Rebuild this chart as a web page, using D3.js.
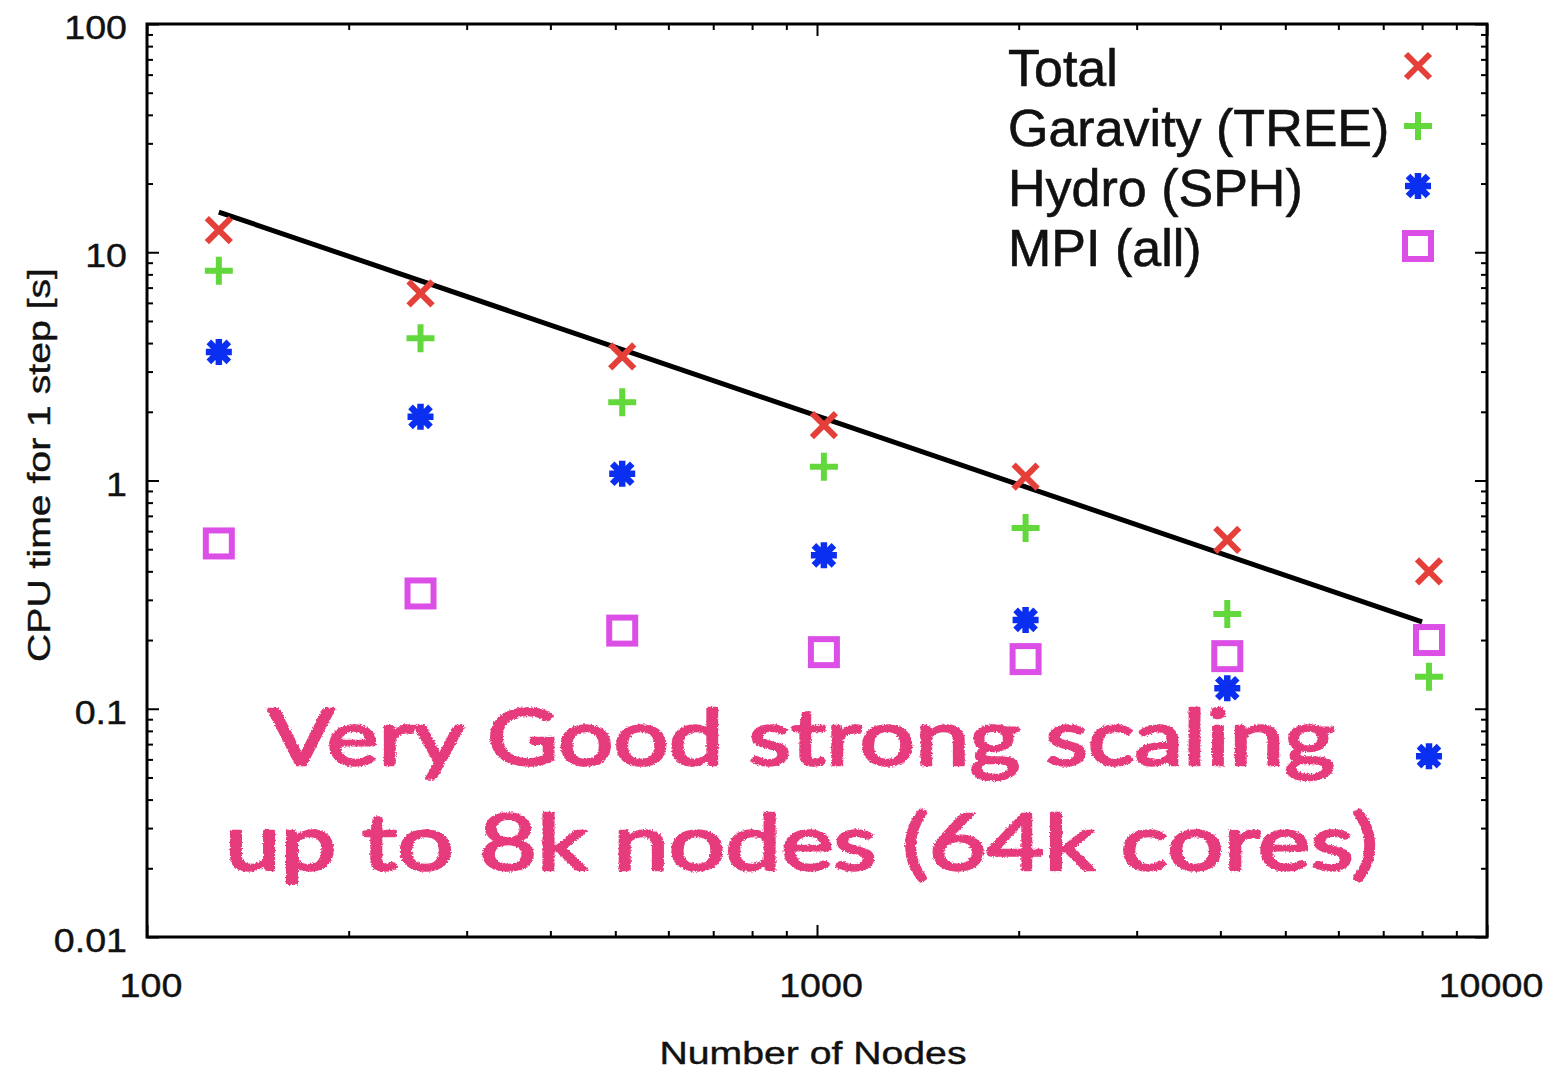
<!DOCTYPE html>
<html>
<head>
<meta charset="utf-8">
<script src="https://cdn.jsdelivr.net/npm/d3@7"></script>
<style>
  body { margin: 0; background: #fff; }
  svg { display: block; }
</style>
</head>
<body>
<svg id="chart" width="1551" height="1072"></svg>
<script>
// Strong-scaling timings: CPU time per step vs. number of nodes
const nodes      = [128, 256, 512, 1024, 2048, 4096, 8192];
const totalTime  = [12.5, 6.6, 3.5, 1.75, 1.04, 0.55, 0.40];
const treeTime   = [8.3, 4.2, 2.2, 1.15, 0.62, 0.26, 0.138];
const sphTime    = [3.66, 1.9, 1.07, 0.47, 0.245, 0.123, 0.062];
const mpiTime    = [0.53, 0.32, 0.22, 0.177, 0.165, 0.17, 0.20];

// Ideal scaling reference line (t ∝ 1/N)
const idealNodes = [128, 8000];
const idealTime  = [15, 0.24];

const xMajorTicks = [100, 1000, 10000];
const yMajorTicks = [0.01, 0.1, 1, 10, 100];
const xTickLabels = ["100", "1000", "10000"];
const yTickLabels = ["0.01", "0.1", "1", "10", "100"];

const seriesNames = ["Total", "Garavity (TREE)", "Hydro (SPH)", "MPI (all)"];
const noteLines   = ["Very Good strong scaling", "up to 8k nodes (64k cores)"];

const svg = d3.select("#chart");
const plot = { left: 147, right: 1487, top: 24, bottom: 937 };

const x = d3.scaleLog().domain([100, 10000]).range([plot.left, plot.right]);
const y = d3.scaleLog().domain([0.01, 100]).range([plot.bottom, plot.top]);

const colors = { total: "#e53f3a", tree: "#63d83d", sph: "#0b2ff0", mpi: "#dc4fe6" };

// Roughened pen stroke for the handwritten note
const defs = svg.append("defs");
const rough = defs.append("filter").attr("id", "rough")
  .attr("x", "-5%").attr("y", "-20%").attr("width", "110%").attr("height", "140%");
rough.append("feTurbulence").attr("type", "fractalNoise")
  .attr("baseFrequency", 0.55).attr("numOctaves", 2).attr("result", "noise");
rough.append("feDisplacementMap").attr("in", "SourceGraphic").attr("in2", "noise")
  .attr("scale", 3.5).attr("xChannelSelector", "R").attr("yChannelSelector", "G");

// Minor ticks for each decade
function minorTicks(lo, hi) {
  const out = [];
  for (let d = lo; d < hi; d *= 10) for (let k = 2; k <= 9; k++) out.push(k * d);
  return out;
}
const xMinor = minorTicks(100, 10000);
const yMinor = minorTicks(0.01, 100);

// Axes with inward ticks on all four sides
function addAxis(axis, tx, ty) {
  const g = svg.append("g").attr("transform", `translate(${tx},${ty})`).call(axis);
  g.selectAll("text").remove();
  g.select(".domain").remove();
  g.selectAll("line").attr("stroke", "#000").attr("stroke-width", 2);
  return g;
}
addAxis(d3.axisBottom(x).tickValues(xMajorTicks).tickSize(-12).tickFormat(""), 0, plot.bottom);
addAxis(d3.axisBottom(x).tickValues(xMinor).tickSize(-6).tickFormat(""), 0, plot.bottom);
addAxis(d3.axisTop(x).tickValues(xMajorTicks).tickSize(-12).tickFormat(""), 0, plot.top);
addAxis(d3.axisTop(x).tickValues(xMinor).tickSize(-6).tickFormat(""), 0, plot.top);
addAxis(d3.axisLeft(y).tickValues(yMajorTicks).tickSize(-12).tickFormat(""), plot.left, 0);
addAxis(d3.axisLeft(y).tickValues(yMinor).tickSize(-6).tickFormat(""), plot.left, 0);
addAxis(d3.axisRight(y).tickValues(yMajorTicks).tickSize(-12).tickFormat(""), plot.right, 0);
addAxis(d3.axisRight(y).tickValues(yMinor).tickSize(-6).tickFormat(""), plot.right, 0);

// Frame
svg.append("rect")
  .attr("x", plot.left).attr("y", plot.top)
  .attr("width", plot.right - plot.left).attr("height", plot.bottom - plot.top)
  .attr("fill", "none").attr("stroke", "#000").attr("stroke-width", 3);

// Widen text horizontally by a factor
function widen(sel, f) {
  sel.each(function () {
    const L = this.getComputedTextLength();
    d3.select(this).attr("textLength", L * f).attr("lengthAdjust", "spacingAndGlyphs");
  });
}

const font = "'Liberation Sans', Arial, Helvetica, sans-serif";

// Tick labels
const xl = svg.append("g").selectAll("text").data(xMajorTicks).join("text")
  .attr("x", d => x(d) + 4).attr("y", 997)
  .attr("text-anchor", "middle").attr("font-family", font).attr("font-size", 33)
  .attr("fill", "#111").attr("stroke", "#111").attr("stroke-width", 0.4)
  .text((d, i) => xTickLabels[i]);
widen(xl, 1.14);

const yl = svg.append("g").selectAll("text").data(yMajorTicks).join("text")
  .attr("x", 127).attr("y", d => y(d) + 15)
  .attr("text-anchor", "end").attr("font-family", font).attr("font-size", 33)
  .attr("fill", "#111").attr("stroke", "#111").attr("stroke-width", 0.4)
  .text((d, i) => yTickLabels[i]);
widen(yl, 1.14);

// Axis titles
svg.append("text")
  .attr("x", 813).attr("y", 1064).attr("text-anchor", "middle")
  .attr("font-family", font).attr("font-size", 31).attr("fill", "#111")
  .attr("stroke", "#111").attr("stroke-width", 0.4)
  .attr("textLength", 307).attr("lengthAdjust", "spacingAndGlyphs")
  .text("Number of Nodes");

svg.append("text")
  .attr("transform", "translate(50,465) rotate(-90)")
  .attr("text-anchor", "middle")
  .attr("font-family", font).attr("font-size", 32).attr("fill", "#111")
  .attr("stroke", "#111").attr("stroke-width", 0.4)
  .attr("textLength", 394).attr("lengthAdjust", "spacingAndGlyphs")
  .text("CPU time for 1 step [s]");

// Ideal-scaling line
const line = d3.line().x(d => x(d[0])).y(d => y(d[1]));
svg.append("path")
  .datum(idealNodes.map((n, i) => [n, idealTime[i]]))
  .attr("d", line).attr("fill", "none")
  .attr("stroke", "#000").attr("stroke-width", 5);

// Point marker glyphs
function drawMarker(g, type, color) {
  if (type === "cross") {
    const s = 12;
    g.append("path").attr("d", `M${-s},${-s}L${s},${s}M${-s},${s}L${s},${-s}`)
      .attr("stroke", color).attr("stroke-width", 6).attr("fill", "none");
  } else if (type === "plus") {
    const s = 14;
    g.append("path").attr("d", `M${-s},0L${s},0M0,${-s}L0,${s}`)
      .attr("stroke", color).attr("stroke-width", 6).attr("fill", "none");
  } else if (type === "star") {
    const s = 13, t = 10;
    g.append("path")
      .attr("d", `M${-s},0L${s},0M0,${-s}L0,${s}M${-t},${-t}L${t},${t}M${-t},${t}L${t},${-t}`)
      .attr("stroke", color).attr("stroke-width", 6.5).attr("fill", "none");
  } else if (type === "square") {
    const s = 13;
    g.append("rect").attr("x", -s).attr("y", -s).attr("width", 2 * s).attr("height", 2 * s)
      .attr("stroke", color).attr("stroke-width", 6).attr("fill", "none");
  }
}

const series = [
  { values: totalTime, type: "cross",  color: colors.total },
  { values: treeTime,  type: "plus",   color: colors.tree },
  { values: sphTime,   type: "star",   color: colors.sph },
  { values: mpiTime,   type: "square", color: colors.mpi }
];

series.forEach(s => {
  svg.append("g").selectAll("g").data(nodes.map((n, i) => [n, s.values[i]])).join("g")
    .attr("transform", d => `translate(${x(d[0])},${y(d[1])})`)
    .each(function () { drawMarker(d3.select(this), s.type, s.color); });
});

// Legend
const legend = svg.append("g");
series.forEach((s, i) => {
  const cy = 66 + i * 60;
  legend.append("text")
    .attr("x", 1008).attr("y", cy + 20)
    .attr("font-family", font).attr("font-size", 52).attr("fill", "#111")
    .attr("stroke", "#111").attr("stroke-width", 0.6)
    .text(seriesNames[i]);
  drawMarker(legend.append("g").attr("transform", `translate(1418,${cy})`), s.type, s.color);
});

// Handwritten note
const note = svg.append("g").attr("filter", "url(#rough)")
  .attr("font-family", "Lato, 'Open Sans', sans-serif").attr("font-weight", 400)
  .attr("font-size", 78).attr("fill", "#e63a7b")
  .attr("stroke", "#e63a7b").attr("stroke-width", 2.5).attr("stroke-linejoin", "round");
note.append("text").attr("x", 268).attr("y", 765)
  .attr("textLength", 1067).attr("lengthAdjust", "spacingAndGlyphs").text(noteLines[0]);
note.append("text").attr("x", 225).attr("y", 870)
  .attr("textLength", 1153).attr("lengthAdjust", "spacingAndGlyphs").text(noteLines[1]);
</script>
</body>
</html>
